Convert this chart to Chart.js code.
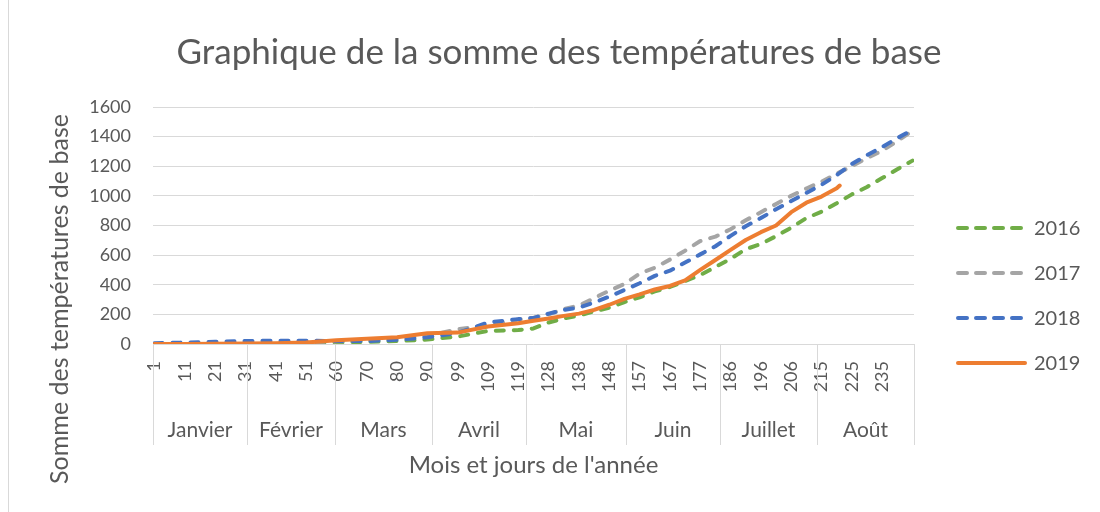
<!DOCTYPE html>
<html>
<head>
<meta charset="utf-8">
<script src="https://cdn.jsdelivr.net/npm/chart.js@4.4.1/dist/chart.umd.min.js"></script>
<style>
  html, body { margin: 0; padding: 0; background: #fff; }
</style>
</head>
<body>
<canvas id="gdd" width="1100" height="512"></canvas>
<script>
// row position on the x axis, then one value per row for each year
const rowIdx = [0, 10, 20, 30, 40, 50, 60, 70, 80, 90, 100, 110,
  120, 125, 130, 135, 140, 145, 150, 155, 160, 165, 170, 175, 180, 185, 190, 195,
  200, 205, 210, 215, 220, 225, 226, 230, 235, 240, 245, 250];

const s2016 = [0, 2, 4, 6, 8, 10, 12, 14, 20, 30, 50, 88,
  94, 105, 145, 172, 193, 220, 245, 283, 315, 355, 385, 425, 466, 520, 575, 640,
  675, 728, 785, 850, 893, 950, null, 1010, 1060, 1120, 1180, 1238];
const s2017 = [0, 3, 5, 8, 10, 12, 18, 25, 35, 55, 100, 125,
  165, 178, 200, 235, 260, 310, 360, 405, 475, 515, 570, 630, 695, 725, 775, 835,
  890, 945, 1000, 1050, 1095, 1150, null, 1200, 1255, 1305, 1370, 1440];
const s2018 = [5, 10, 15, 20, 22, 22, 20, 20, 28, 45, 75, 145,
  168, 175, 205, 230, 245, 280, 320, 365, 410, 460, 495, 550, 605, 660, 730, 795,
  850, 910, 965, 1020, 1075, 1140, null, 1215, 1275, 1330, 1390, 1445];
const s2019 = [0, 0, 2, 3, 5, 10, 25, 35, 45, 72, 77, 118,
  140, 157, 172, 190, 205, 230, 265, 305, 335, 368, 392, 430, 500, 567, 635, 702,
  755, 800, 890, 954, 995, 1051, 1070, null, null, null, null, null];

// day labels shown every 10 rows
const dayTicks = [1, 11, 21, 31, 41, 51, 60, 70, 80, 90, 99, 109, 119, 128, 138, 148,
  157, 167, 177, 186, 196, 206, 215, 225, 235];
const monthNames = ['Janvier', 'Février', 'Mars', 'Avril', 'Mai', 'Juin', 'Juillet', 'Août'];
const monthStart = [0, 31, 60, 92, 123, 156, 187, 219, 251];
const yearNames = ['2016', '2017', '2018', '2019'];

const textCol = '#595959';
const gridCol = '#D9D9D9';

function toPoints(vals) {
    const pts = [];
    vals.forEach((v, i) => { if (v !== null) pts.push({ x: rowIdx[i], y: v }); });
    return pts;
}

function makeSet(label, vals, color, dashed, order) {
    return {
        label: label,
        data: toPoints(vals),
        borderColor: color,
        backgroundColor: color,
        borderWidth: 4,
        borderDash: dashed ? [8, 10] : [],
        borderCapStyle: 'round',
        borderJoinStyle: 'round',
        pointRadius: 0,
        tension: 0,
        fill: false,
        order: order
    };
}

// month separators, month names, titles and legend
const extras = {
    id: 'extras',
    afterDraw(chart) {
        const ctx = chart.ctx;
        const xs = chart.scales.x;
        const area = chart.chartArea;
        ctx.save();

        // chart border (left edge)
        ctx.strokeStyle = gridCol;
        ctx.lineWidth = 1;
        ctx.beginPath();
        ctx.moveTo(8.5, 0);
        ctx.lineTo(8.5, 512);
        ctx.stroke();

        ctx.beginPath();
        monthStart.forEach(b => {
            const x = Math.round(xs.getPixelForValue(b - 0.5)) + 0.5;
            ctx.moveTo(x, area.bottom);
            ctx.lineTo(x, 445);
        });
        ctx.stroke();

        ctx.fillStyle = textCol;
        ctx.font = '21px Lato';
        ctx.textAlign = 'center';
        ctx.textBaseline = 'middle';
        monthNames.forEach((m, i) => {
            const x0 = xs.getPixelForValue(monthStart[i] - 0.5);
            const x1 = xs.getPixelForValue(monthStart[i + 1] - 0.5);
            ctx.fillText(m, (x0 + x1) / 2, 430);
        });

        // main title
        ctx.font = '35px Lato';
        ctx.fillText('Graphique de la somme des températures de base', 559, 53);

        // y axis title
        ctx.save();
        ctx.translate(60, 299);
        ctx.rotate(-Math.PI / 2);
        ctx.font = '25px Lato';
        ctx.fillText('Somme des températures de base', 0, 0);
        ctx.restore();

        // legend
        ctx.font = '20px Lato';
        ctx.textAlign = 'left';
        const legendY = [228, 273, 318, 363];
        chart.data.datasets.forEach((ds, i) => {
            const y = legendY[i];
            ctx.strokeStyle = ds.borderColor;
            ctx.lineWidth = 4;
            ctx.lineCap = 'round';
            ctx.setLineDash(ds.borderDash.length ? [9, 9] : []);
            ctx.beginPath();
            ctx.moveTo(958, y);
            ctx.lineTo(1025, y);
            ctx.stroke();
            ctx.setLineDash([]);
            ctx.fillStyle = textCol;
            ctx.fillText(ds.label, 1034, y + 1);
        });

        ctx.restore();
    }
};

const chart = new Chart(document.getElementById('gdd'), {
    type: 'line',
    data: {
        datasets: [
            makeSet(yearNames[0], s2016, '#70AD47', true, 3),
            makeSet(yearNames[1], s2017, '#A5A5A5', true, 2),
            makeSet(yearNames[2], s2018, '#4472C4', true, 1),
            makeSet(yearNames[3], s2019, '#ED7D31', false, 0)
        ]
    },
    options: {
        responsive: false,
        animation: false,
        devicePixelRatio: 1,
        layout: { padding: { top: 107, right: 186, left: 0, bottom: 0 } },
        plugins: {
            legend: { display: false },
            title: { display: false },
            tooltip: { enabled: false }
        },
        scales: {
            x: {
                type: 'linear',
                min: -0.5,
                max: 250.5,
                grid: { display: false, drawTicks: false },
                border: { display: false },
                afterBuildTicks: scale => {
                    scale.ticks = dayTicks.map((d, i) => ({ value: i * 10 }));
                },
                afterFit: scale => { scale.height = 168; },
                ticks: {
                    autoSkip: false,
                    minRotation: 90,
                    maxRotation: 90,
                    padding: 17,
                    color: textCol,
                    font: { family: 'Lato', size: 18 },
                    callback: v => dayTicks[Math.round(v / 10)]
                },
                title: {
                    display: true,
                    text: "Mois et jours de l'année",
                    color: textCol,
                    font: { family: 'Lato', size: 24 },
                    padding: { top: 0, bottom: 32 }
                }
            },
            y: {
                min: 0,
                max: 1600,
                grid: { color: gridCol, lineWidth: 1, drawTicks: false },
                border: { display: false },
                afterFit: scale => { scale.width = 153; },
                ticks: {
                    stepSize: 200,
                    padding: 22,
                    color: textCol,
                    font: { family: 'Lato', size: 18 },
                    callback: v => String(v)
                }
            }
        }
    },
    plugins: [extras]
});
</script>
</body>
</html>
